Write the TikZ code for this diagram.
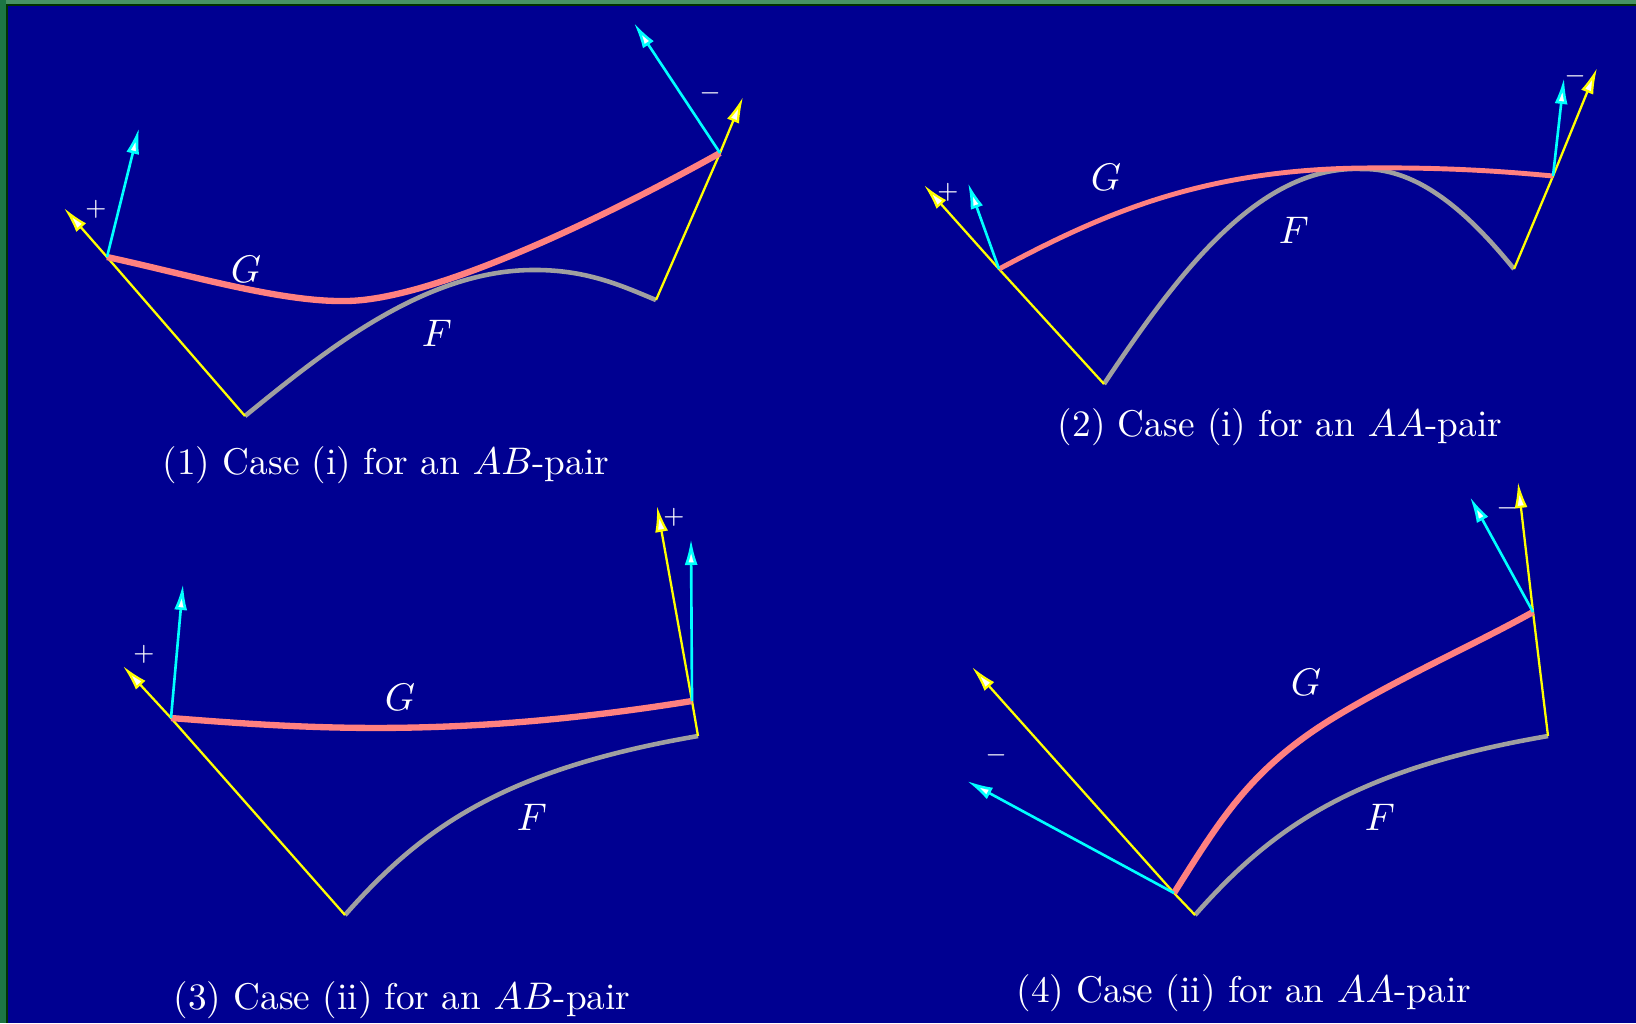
\documentclass[tikz,border=0pt]{standalone}
\usetikzlibrary{arrows.meta}

\definecolor{bgblue}{RGB}{0,0,145}
\definecolor{framegreen}{RGB}{70,148,100}
\definecolor{framedark}{RGB}{28,118,68}
\definecolor{gpink}{RGB}{255,128,128}
\definecolor{fgray}{RGB}{160,160,160}
\definecolor{vyellow}{RGB}{255,255,0}
\definecolor{vcyan}{RGB}{0,255,255}

\newcommand*{\wmax}{1636}
\newcommand*{\hmax}{1023}

\begin{document}
\begin{tikzpicture}
[
	x=0.1mm,y=-0.1mm,
	fcurve/.style={fgray,line width=1.3pt},
	gcurve/.style={gpink,line width=1.8pt},
	yvec/.style={vyellow,line width=0.65pt,-{Latex[length=2.6mm,width=1.3mm,fill=white]}},
	cvec/.style={vcyan,line width=0.75pt,-{Latex[length=2.6mm,width=1.3mm,fill=white]}},
	lbl/.style={text=white,inner sep=0pt,font=\fontsize{10.6}{13}\selectfont},
	sgn/.style={text=white,inner sep=0pt,font=\fontsize{7.5}{9}\selectfont}
]

	% background and frame
	\fill[bgblue] (0,0) rectangle (\wmax,\hmax);
	\fill[framegreen] (0,0) rectangle (\wmax,4);
	\fill[framedark] (0,0) rectangle (6,\hmax);
	\fill[black!80!green] (6,4) rectangle (\wmax,6);
	\fill[black!80!green] (6,4) rectangle (8,\hmax);

	% (1)
	\coordinate (p1a) at (245,416);
	\coordinate (p1b) at (656,300);
	\coordinate (p1s) at (107,257);
	\coordinate (p1e) at (720,153);
	\coordinate (y1s) at (64,208);
	\coordinate (y1e) at (743,97);
	\coordinate (c1s) at (139,128);
	\coordinate (c1e) at (634,23);

	\draw[fcurve] (p1a) .. controls (320,355) and (420,272) .. (530,270) .. controls (585,269) and (620,285) .. (p1b);
	\draw[yvec] (p1a) -- (p1s) -- (y1s);
	\draw[yvec] (p1b) -- (p1e) -- (y1e);
	\draw[gcurve] (p1s) .. controls (190,275) and (280,302) .. (345,301) .. controls (430,301) and (600,220) .. (p1e);
	\draw[cvec] (p1s) -- (c1s);
	\draw[cvec] (p1e) -- (c1e);

	\node[sgn] (s1l) at (96,209) {$+$};
	\node[sgn] (s1r) at (710,93) {$-$};
	\node[lbl] (g1) at (246,269) {$G$};
	\node[lbl] (f1) at (437,333) {$F$};
	\node[lbl] (cap1) at (386,465) {(1) Case (i) for an $AB$-pair};

	% (2)
	\coordinate (p2a) at (1104,384);
	\coordinate (p2b) at (1514,269);
	\coordinate (p2s) at (999,269);
	\coordinate (p2e) at (1553,176);
	\coordinate (y2s) at (924,185);
	\coordinate (y2e) at (1597,68);
	\coordinate (c2s) at (968,183);
	\coordinate (c2e) at (1564,78);

	\draw[fcurve] (p2a) .. controls (1180,270) and (1260,165) .. (1362,169) .. controls (1420,168) and (1470,215) .. (p2b);
	\draw[yvec] (p2a) -- (p2s) -- (y2s);
	\draw[yvec] (p2b) -- (p2e) -- (y2e);
	\draw[gcurve,line width=1.4pt] (p2s) .. controls (1100,215) and (1200,170) .. (1362,168) .. controls (1450,167) and (1510,172) .. (p2e);
	\draw[cvec] (p2s) -- (c2s);
	\draw[cvec] (p2e) -- (c2e);

	\node[sgn] (s2l) at (948,192) {$+$};
	\node[sgn] (s2r) at (1575,76) {$-$};
	\node[lbl] (g2) at (1106,177) {$G$};
	\node[lbl] (f2) at (1294,230) {$F$};
	\node[lbl] (cap2) at (1280,427) {(2) Case (i) for an $AA$-pair};

	% (3)
	\coordinate (p3a) at (345,915);
	\coordinate (p3b) at (698,736);
	\coordinate (p3s) at (171,718);
	\coordinate (p3e) at (692,701);
	\coordinate (y3s) at (123,666);
	\coordinate (y3e) at (657,506);
	\coordinate (c3s) at (183,584);
	\coordinate (c3e) at (691,539);

	\draw[fcurve] (p3a) .. controls (420,830) and (500,770) .. (p3b);
	\draw[yvec] (p3a) -- (p3s) -- (y3s);
	\draw[yvec] (p3b) -- (p3e) -- (y3e);
	\draw[gcurve] (p3s) .. controls (300,728) and (450,740) .. (p3e);
	\draw[cvec] (p3s) -- (c3s);
	\draw[cvec] (p3e) -- (c3e);

	\node[sgn] (s3l) at (144,654) {$+$};
	\node[sgn] (s3r) at (674,517) {$+$};
	\node[lbl] (g3) at (400,697) {$G$};
	\node[lbl] (f3) at (532,817) {$F$};
	\node[lbl] (cap3) at (402,1000) {(3) Case (ii) for an $AB$-pair};

	% (4)
	\coordinate (p4a) at (1195,915);
	\coordinate (p4b) at (1548,736);
	\coordinate (p4s) at (1174,893);
	\coordinate (p4e) at (1533,612);
	\coordinate (y4s) at (972,667);
	\coordinate (y4e) at (1518,482);
	\coordinate (c4s) at (967,781);
	\coordinate (c4e) at (1470,497);

	\draw[fcurve] (p4a) .. controls (1270,830) and (1350,770) .. (p4b);
	\draw[yvec] (p4a) -- (p4s) -- (y4s);
	\draw[yvec] (p4b) -- (p4e) -- (y4e);
	\draw[gcurve] (p4s) .. controls (1220,820) and (1250,770) .. (1330,720) .. controls (1400,677) and (1470,647) .. (p4e);
	\draw[cvec] (p4s) -- (c4s);
	\draw[cvec] (p4e) -- (c4e);

	\node[sgn] (s4l) at (996,755) {$-$};
	\node[sgn] (s4r) at (1507,508) {$-$};
	\node[lbl] (g4) at (1306,682) {$G$};
	\node[lbl] (f4) at (1380,817) {$F$};
	\node[lbl] (cap4) at (1244,993) {(4) Case (ii) for an $AA$-pair};

\end{tikzpicture}
\end{document}
